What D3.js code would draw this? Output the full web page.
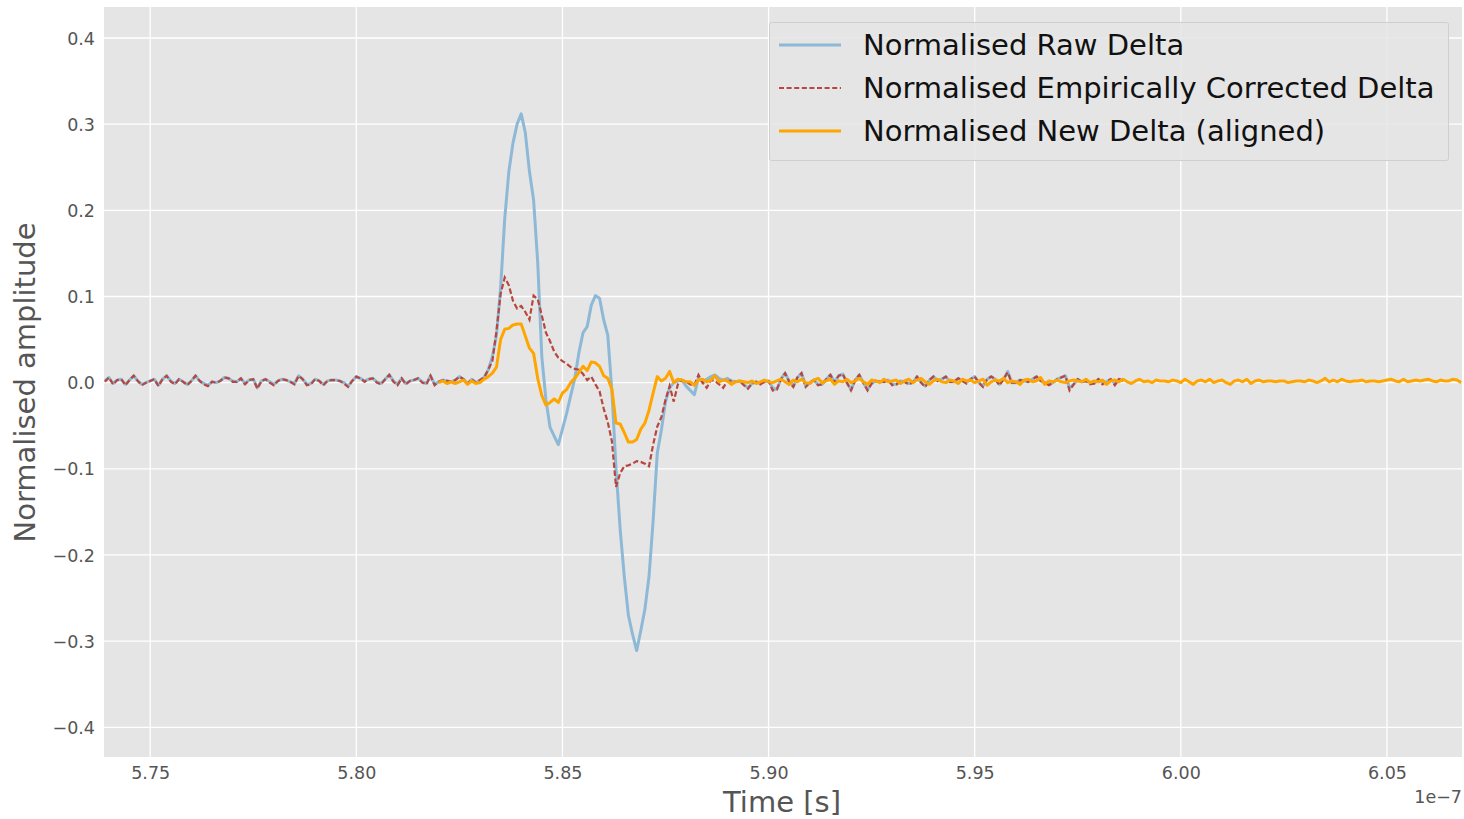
<!DOCTYPE html>
<html>
<head>
<meta charset="utf-8">
<script src="https://cdn.jsdelivr.net/npm/d3@7"></script>
<style>
  html, body { margin: 0; padding: 0; background: #ffffff; }
  svg { display: block; font-family: "DejaVu Sans", sans-serif; }
</style>
</head>
<body>
<svg id="chart" width="1464" height="819"></svg>
<script>
// ---------------- DATA (time in units of 1e-7 s) ----------------
const sampleStep = 0.001;
const rawStart = 5.739;
const newStart = 5.820;

const xTicks = [5.75, 5.80, 5.85, 5.90, 5.95, 6.00, 6.05];
const yTicks = [0.4, 0.3, 0.2, 0.1, 0.0, -0.1, -0.2, -0.3, -0.4];

const rawDelta = [
  0.002,0.006,-0.001,0.003,0.004,-0.002,0.003,0.008,0.002,-0.002,
  0.000,0.002,0.004,-0.003,0.004,0.008,0.002,-0.001,0.004,0.001,
  -0.002,0.002,0.008,0.002,-0.001,-0.003,0.001,0.000,0.002,0.006,
  0.005,0.002,0.001,0.005,-0.001,0.003,0.004,-0.006,0.002,0.004,
  0.001,-0.002,0.002,0.004,0.003,0.001,-0.001,0.008,0.004,-0.002,
  -0.001,0.004,0.002,-0.002,0.002,0.003,0.003,0.002,0.000,-0.004,
  0.002,0.007,0.005,0.002,0.004,0.005,0.001,-0.001,0.004,0.009,
  0.002,-0.002,0.005,-0.001,0.002,0.003,0.005,0.001,-0.001,0.008,
  -0.002,0.001,0.003,0.002,0.001,0.003,0.007,0.004,-0.001,0.004,
  0.000,
  0.003,0.006,0.015,0.030,0.055,0.110,0.190,0.245,0.278,0.300,
  0.312,0.290,0.245,0.212,0.140,0.030,-0.020,-0.052,-0.062,-0.072,
  -0.054,-0.036,-0.015,0.005,0.035,0.058,0.065,0.090,0.101,0.098,
  0.073,0.055,-0.010,-0.100,-0.170,-0.225,-0.270,-0.292,-0.311,-0.288,
  -0.263,-0.225,-0.160,-0.082,-0.055,-0.022,-0.006,0.000,0.002,0.003,
  -0.004,-0.009,-0.014,0.006,0.000,0.004,0.007,0.009,0.005,0.003,
  0.005,
  0.002,0.001,0.002,-0.002,-0.006,-0.001,0.001,-0.001,0.001,0.002,
  -0.006,-0.008,0.004,0.011,0.002,-0.004,0.006,0.011,-0.004,0.000,
  0.003,-0.002,-0.002,0.004,0.009,0.001,0.008,0.010,0.000,-0.008,
  0.003,0.009,0.000,-0.008,-0.001,0.002,0.001,0.001,0.003,-0.002,
  -0.002,0.002,0.001,-0.001,0.000,0.007,0.000,-0.004,0.003,0.007,
  0.002,0.004,0.007,0.001,0.001,0.005,0.002,0.000,0.004,0.007,
  0.000,-0.004,0.004,0.007,0.004,-0.002,0.004,0.013,0.000,0.000,
  0.003,0.002,0.001,0.004,0.007,0.002,0.000,-0.002,0.000,0.004,
  0.006,0.008,-0.006,-0.002,0.004,0.001,0.002,0.000,-0.001,0.004,
  0.000,0.001,0.004,-0.001,0.004,0.002
];

const correctedDelta = [
  0.001,0.006,-0.002,0.003,0.004,-0.003,0.003,0.008,0.002,-0.003,
  0.000,0.002,0.004,-0.004,0.004,0.008,0.001,-0.002,0.004,0.001,
  -0.003,0.002,0.008,0.002,-0.002,-0.004,0.001,0.000,0.002,0.006,
  0.005,0.001,0.001,0.005,-0.002,0.003,0.004,-0.007,0.002,0.004,
  0.000,-0.003,0.002,0.004,0.003,0.001,-0.002,0.008,0.004,-0.003,
  -0.002,0.004,0.002,-0.003,0.002,0.003,0.003,0.002,-0.001,-0.005,
  0.002,0.007,0.005,0.001,0.004,0.005,0.000,-0.002,0.004,0.009,
  0.001,-0.003,0.005,-0.002,0.002,0.003,0.005,0.000,-0.002,0.008,
  -0.003,0.001,0.003,0.002,0.001,0.003,0.007,0.004,-0.001,0.004,
  0.000,
  0.003,0.006,0.015,0.025,0.060,0.103,0.122,0.113,0.095,0.086,
  0.089,0.082,0.073,0.101,0.097,0.078,0.058,0.048,0.036,0.029,
  0.025,0.022,0.018,0.016,0.015,0.010,0.003,0.007,-0.002,-0.010,
  -0.030,-0.046,-0.068,-0.121,-0.105,-0.097,-0.096,-0.094,-0.091,-0.092,
  -0.094,-0.097,-0.072,-0.051,-0.040,-0.020,-0.004,-0.022,-0.002,0.003,
  0.001,-0.002,-0.003,0.009,0.000,-0.006,0.003,0.002,-0.002,-0.006,
  0.002,
  0.002,0.001,0.002,-0.003,-0.007,-0.001,0.001,-0.002,0.001,0.002,
  -0.009,-0.008,0.004,0.011,0.001,-0.005,0.006,0.011,-0.005,0.000,
  0.003,-0.003,-0.002,0.004,0.009,0.000,0.008,0.010,0.000,-0.009,
  0.003,0.009,0.000,-0.009,-0.001,0.002,0.001,0.001,0.003,-0.003,
  -0.002,0.002,0.001,-0.002,0.000,0.007,0.000,-0.005,0.003,0.007,
  0.002,0.004,0.007,0.001,0.001,0.005,0.002,-0.001,0.004,0.007,
  0.000,-0.005,0.004,0.007,0.004,-0.003,0.004,0.012,0.000,0.000,
  0.003,0.002,0.001,0.004,0.007,0.002,0.000,-0.003,0.000,0.004,
  0.006,0.008,-0.009,-0.002,0.004,0.001,0.002,-0.002,-0.001,0.004,
  -0.002,0.001,0.004,-0.003,0.004,0.002
];

const newDelta = [
  0.000,0.002,-0.001,0.001,-0.001,0.001,0.003,-0.002,0.002,-0.001,
  0.000,0.004,0.007,0.011,0.018,0.050,0.062,0.063,0.067,0.068,
  0.068,0.054,0.040,0.034,0.005,-0.015,-0.026,-0.023,-0.019,-0.023,
  -0.012,-0.008,0.000,0.005,0.012,0.019,0.014,0.024,0.023,0.019,
  0.008,0.005,-0.008,-0.047,-0.048,-0.058,-0.069,-0.069,-0.066,-0.054,
  -0.047,-0.032,-0.012,0.007,0.002,0.005,0.013,0.000,0.004,0.003,
  0.001,
  0.001,-0.003,0.003,0.004,0.001,0.003,0.008,0.001,0.003,0.002,
  -0.002,0.001,0.002,0.001,0.000,0.002,-0.001,0.001,0.003,0.001,
  0.000,0.002,0.004,0.001,-0.002,0.003,0.001,0.004,0.000,-0.001,
  0.003,0.005,0.000,0.002,0.004,-0.002,0.002,0.001,0.004,0.000,
  0.002,0.005,0.001,-0.002,0.003,0.002,0.000,0.004,0.001,0.002,
  0.003,-0.001,0.002,0.004,0.000,0.003,0.005,0.001,-0.002,0.002,
  0.004,0.001,0.000,0.003,0.002,-0.001,0.004,0.002,0.003,0.000,
  0.002,0.004,-0.003,0.001,0.003,0.002,0.005,0.000,0.002,0.001,
  -0.002,0.003,0.004,0.001,0.002,0.006,-0.002,0.002,0.001,0.003,
  0.001,0.000,0.002,0.003,0.002,0.001,0.004,0.000,0.002,0.001,
  0.003,-0.002,0.002,0.003,0.001,0.004,0.001,-0.001,0.002,0.004,
  0.001,0.002,0.000,0.003,0.002,0.002,0.001,0.003,0.002,0.000,
  0.004,0.001,-0.002,0.002,0.003,0.001,0.004,0.000,0.002,0.003,
  0.000,-0.002,0.002,0.003,0.001,0.004,-0.001,0.002,0.003,0.001,
  0.002,0.002,0.001,0.002,0.002,0.000,0.001,0.002,0.002,0.001,
  0.003,0.002,0.000,0.002,0.005,0.001,0.003,0.001,0.004,0.002,
  0.001,0.002,0.002,0.003,0.001,0.002,0.002,0.001,0.002,0.003,
  0.004,0.002,0.001,0.004,0.001,0.002,0.003,0.002,0.003,0.004,
  0.002,0.001,0.003,0.002,0.002,0.004,0.003,0.000
];

const seriesNames = ["Normalised Raw Delta", "Normalised Empirically Corrected Delta", "Normalised New Delta (aligned)"];

// ---------------- LAYOUT ----------------
const plot = { left: 104, right: 1462, top: 7, bottom: 757 };

const svg = d3.select("#chart");

const x = d3.scaleLinear().domain([5.7388, 6.0682]).range([plot.left, plot.right]);
const y = d3.scaleLinear().domain([-0.4345, 0.436]).range([plot.bottom, plot.top]);

// Plot background
svg.append("rect")
  .attr("x", plot.left).attr("y", plot.top)
  .attr("width", plot.right - plot.left).attr("height", plot.bottom - plot.top)
  .attr("fill", "#E5E5E5");

// Grid
const grid = svg.append("g");
grid.selectAll("line.gx").data(xTicks).enter().append("line")
  .attr("x1", d => x(d)).attr("x2", d => x(d))
  .attr("y1", plot.top).attr("y2", plot.bottom)
  .attr("stroke", "#ffffff").attr("stroke-width", 1.3);
grid.selectAll("line.gy").data(yTicks).enter().append("line")
  .attr("y1", d => y(d)).attr("y2", d => y(d))
  .attr("x1", plot.left).attr("x2", plot.right)
  .attr("stroke", "#ffffff").attr("stroke-width", 1.3);

// Axes (labels only, ggplot-like)
const fmtMinus = s => s.replace("-", "\u2212");
const xAxis = d3.axisBottom(x).tickValues(xTicks).tickSize(0).tickPadding(0)
  .tickFormat(d => d3.format(".2f")(d));
const gx = svg.append("g").attr("transform", `translate(0,${plot.bottom})`).call(xAxis);
gx.select(".domain").remove();
gx.selectAll("text").attr("y", 22).attr("dy", "0em")
  .attr("font-size", 17.5).attr("fill", "#555555").attr("font-family", "DejaVu Sans");

const yAxis = d3.axisLeft(y).tickValues(yTicks).tickSize(0).tickPadding(0)
  .tickFormat(d => fmtMinus(d3.format(".1f")(Math.abs(d) < 1e-9 ? 0 : d)));
const gy = svg.append("g").attr("transform", `translate(${plot.left},0)`).call(yAxis);
gy.select(".domain").remove();
gy.selectAll("text").attr("x", -9).attr("dy", "0.35em")
  .attr("font-size", 17.5).attr("fill", "#555555").attr("font-family", "DejaVu Sans");

// Axis labels
svg.append("text")
  .attr("x", (plot.left + plot.right) / 2 - 1).attr("y", 812)
  .attr("text-anchor", "middle").attr("font-size", 29).attr("fill", "#555555")
  .text("Time [s]");
svg.append("text")
  .attr("transform", `translate(35,${(222 + 543) / 2}) rotate(-90)`)
  .attr("text-anchor", "middle").attr("font-size", 29).attr("fill", "#555555")
  .text("Normalised amplitude");
svg.append("text")
  .attr("x", plot.right).attr("y", 803)
  .attr("text-anchor", "end").attr("font-size", 17.5).attr("fill", "#555555")
  .text("1e\u22127");

// Lines
svg.append("clipPath").attr("id", "plotclip").append("rect")
  .attr("x", plot.left).attr("y", plot.top)
  .attr("width", plot.right - plot.left).attr("height", plot.bottom - plot.top);

const toPoints = (arr, start) => arr.map((v, i) => [start + i * sampleStep, v]);
const line = d3.line().x(d => x(d[0])).y(d => y(d[1]));

const lines = svg.append("g").attr("clip-path", "url(#plotclip)");
lines.append("path").datum(toPoints(rawDelta, rawStart))
  .attr("d", line).attr("fill", "none")
  .attr("stroke", "#8DB9D6").attr("stroke-width", 3).attr("stroke-linejoin", "round");
lines.append("path").datum(toPoints(correctedDelta, rawStart))
  .attr("d", line).attr("fill", "none")
  .attr("stroke", "#B8463C").attr("stroke-width", 2.2).attr("stroke-dasharray", "5.5,2.6");
lines.append("path").datum(toPoints(newDelta, newStart))
  .attr("d", line).attr("fill", "none")
  .attr("stroke", "#FFA500").attr("stroke-width", 3).attr("stroke-linejoin", "round");

// Legend
const lg = svg.append("g");
lg.append("rect")
  .attr("x", 769.5).attr("y", 22.5).attr("width", 679).attr("height", 138).attr("rx", 2)
  .attr("fill", "#E5E5E5").attr("fill-opacity", 0.85)
  .attr("stroke", "#cfcfcf").attr("stroke-width", 1);
const legendRows = [
  { name: seriesNames[0], color: "#8DB9D6", width: 3, dash: null },
  { name: seriesNames[1], color: "#B8463C", width: 1.8, dash: "5,2.6" },
  { name: seriesNames[2], color: "#FFA500", width: 3, dash: null }
];
legendRows.forEach((r, i) => {
  const cy = 45 + i * 43;
  lg.append("line").attr("x1", 779).attr("x2", 841).attr("y1", cy).attr("y2", cy)
    .attr("stroke", r.color).attr("stroke-width", r.width)
    .attr("stroke-dasharray", r.dash);
  lg.append("text").attr("x", 863).attr("y", cy).attr("dy", "0.36em")
    .attr("font-size", 29).attr("fill", "#111111").text(r.name);
});
</script>
</body>
</html>
